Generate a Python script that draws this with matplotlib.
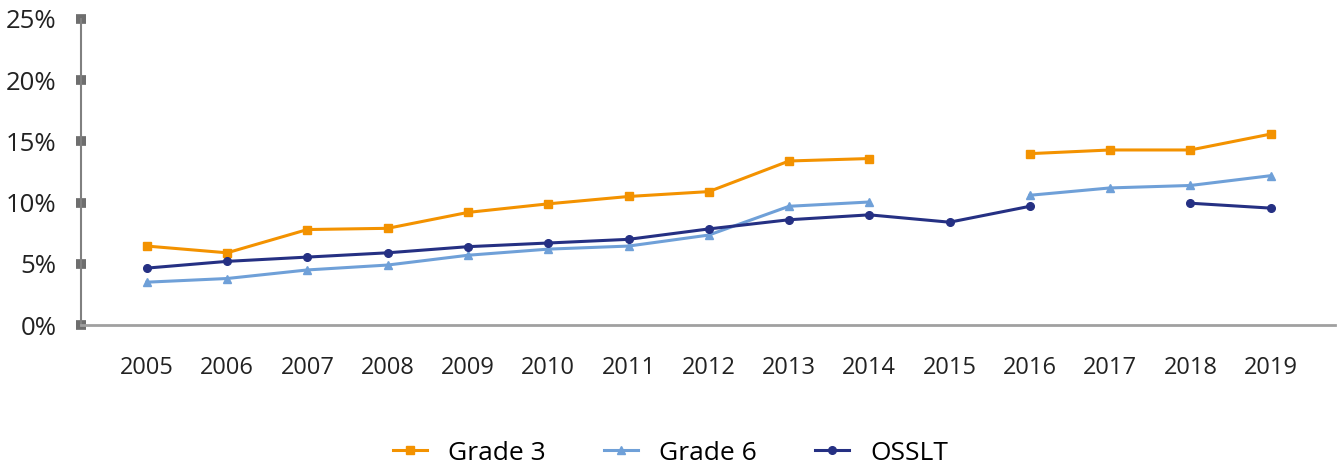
import matplotlib.pyplot as plt
import numpy as np

plt.rcParams['font.family'] = ['Open Sans', 'DejaVu Sans']

years = [2005, 2006, 2007, 2008, 2009, 2010, 2011, 2012, 2013, 2014, 2015, 2016, 2017, 2018, 2019]
grade3 = [6.45, 5.9, 7.8, 7.9, 9.2, 9.9, 10.5, 10.9, 13.4, 13.6, np.nan, 14.0, 14.3, 14.3, 15.6]
grade6 = [3.5, 3.8, 4.5, 4.9, 5.7, 6.2, 6.45, 7.35, 9.7, 10.05, np.nan, 10.6, 11.2, 11.4, 12.2]
osslt = [4.65, 5.2, 5.55, 5.9, 6.4, 6.7, 7.0, 7.85, 8.6, 9.0, 8.4, 9.7, np.nan, 9.95, 9.55]
yticks = [0, 5, 10, 15, 20, 25]

fig = plt.figure(figsize=(13.39, 4.63), dpi=100)
ax = fig.add_axes([0.0605, 0.298, 0.9365, 0.661])

ax.plot(years, grade3, color='#F39200', marker='s', markersize=6, linewidth=2.2, label='Grade 3')
ax.plot(years, grade6, color='#6FA0D8', marker='^', markersize=6, linewidth=2.2, label='Grade 6')
ax.plot(years, osslt, color='#253083', marker='o', markersize=5.5, linewidth=2.2, label='OSSLT')

ax.set_xlim(2004.18, 2019.8)
ax.set_ylim(0, 25)
ax.set_xticks(years)
ax.set_xticklabels([str(y) for y in years])
ax.set_yticks(yticks)
ax.set_yticklabels(['%d%%' % v for v in yticks])

for s in ['top', 'right']:
    ax.spines[s].set_visible(False)
ax.spines['left'].set_color('#808080')
ax.spines['left'].set_linewidth(1.5)
ax.spines['bottom'].set_color('#A0A0A0')
ax.spines['bottom'].set_linewidth(2)

ax.tick_params(axis='y', direction='inout', length=7, width=7, color='#6E6E6E',
               labelsize=18.5, labelcolor='#222222', pad=14)
ax.tick_params(axis='x', length=0, labelsize=17, labelcolor='#222222', pad=22)

ax.legend(loc='upper center', bbox_to_anchor=(0.47, -0.30), ncol=3, frameon=False,
          fontsize=19, handlelength=1.3, columnspacing=2.2, handletextpad=0.8)

fig.savefig('out.png', dpi=100)
